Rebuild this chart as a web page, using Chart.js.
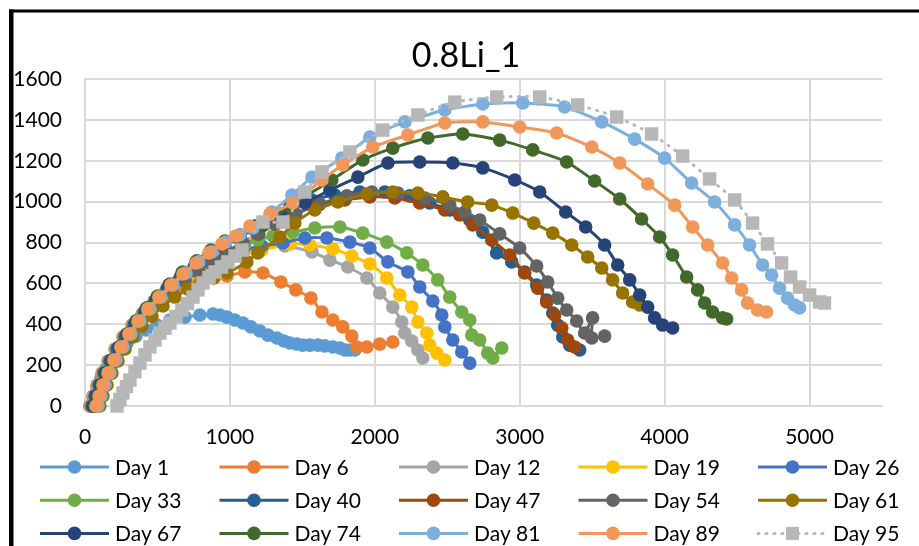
<!DOCTYPE html>
<html lang="en">
<head>
<meta charset="UTF-8">
<title>0.8Li_1</title>
<script src="https://cdn.jsdelivr.net/npm/chart.js@4.4.0/dist/chart.umd.min.js"></script>
<style>
  html, body { margin: 0; padding: 0; background: #fff; }
</style>
</head>
<body>
<canvas id="chart" width="919" height="546"></canvas>
<script>
// series names and colours (Excel palette)
const chartTitle = '0.8Li_1';
const dayLabels = ['Day 1', 'Day 6', 'Day 12', 'Day 19', 'Day 26', 'Day 33', 'Day 40', 'Day 47',
                   'Day 54', 'Day 61', 'Day 67', 'Day 74', 'Day 81', 'Day 89', 'Day 95'];
const dayColors = ['#5B9BD5', '#ED7D31', '#A5A5A5', '#FFC000', '#4472C4', '#70AD47', '#255E91', '#9E480E',
                   '#636363', '#997300', '#264478', '#43682B', '#7CAFDD', '#F1975A', '#B7B7B7'];
const xTickValues = [0, 1000, 2000, 3000, 4000, 5000];
const yTickValues = [0, 200, 400, 600, 800, 1000, 1200, 1400, 1600];

// values
const day1X = [34, 55, 83, 110, 145, 186, 234, 290, 352, 421, 497, 586, 690, 793, 883, 931, 979, 1034, 1090, 1145, 1207, 1262, 1324, 1372, 1414, 1462, 1503, 1552, 1607, 1655, 1710, 1759, 1793, 1828, 1862];
const day1Y = [0, 44, 93, 137, 181, 225, 269, 308, 342, 372, 396, 421, 435, 445, 450, 445, 435, 421, 406, 387, 367, 347, 333, 318, 308, 303, 298, 298, 298, 294, 289, 284, 274, 274, 274];

const day6X = [34, 55, 83, 117, 159, 207, 262, 324, 393, 469, 552, 641, 738, 848, 979, 1103, 1228, 1352, 1455, 1559, 1635, 1710, 1779, 1841, 1876, 1945, 2034, 2124];
const day6Y = [0, 49, 103, 161, 220, 279, 338, 396, 450, 499, 543, 577, 607, 626, 636, 656, 651, 607, 568, 528, 460, 421, 387, 342, 289, 289, 303, 313];

const day12X = [41, 62, 90, 124, 166, 214, 269, 331, 400, 476, 559, 641, 724, 828, 945, 1069, 1207, 1379, 1566, 1690, 1814, 1945, 2034, 2124, 2186, 2207, 2255, 2297, 2331];
const day12Y = [0, 49, 103, 161, 220, 279, 338, 396, 455, 514, 568, 612, 646, 685, 724, 754, 773, 783, 754, 714, 680, 626, 553, 484, 411, 357, 318, 274, 235];

const day19X = [48, 69, 97, 131, 172, 221, 276, 338, 407, 483, 566, 655, 745, 841, 945, 1069, 1221, 1414, 1552, 1710, 1841, 1966, 2083, 2172, 2255, 2297, 2359, 2379, 2428, 2483];
const day19Y = [0, 49, 103, 161, 220, 279, 338, 396, 455, 514, 568, 617, 651, 680, 705, 734, 763, 793, 788, 768, 734, 695, 626, 543, 484, 411, 357, 298, 259, 225];

const day26X = [55, 76, 103, 138, 179, 228, 283, 345, 414, 490, 572, 662, 759, 862, 972, 1090, 1221, 1366, 1517, 1669, 1828, 1966, 2090, 2228, 2310, 2400, 2462, 2483, 2538, 2600, 2655];
const day26Y = [0, 49, 103, 161, 220, 279, 338, 396, 455, 514, 568, 617, 661, 700, 734, 763, 783, 798, 822, 822, 802, 773, 705, 656, 582, 514, 445, 387, 323, 264, 210];

const day33X = [69, 90, 117, 152, 193, 241, 297, 359, 428, 503, 586, 676, 772, 876, 986, 1103, 1193, 1297, 1434, 1586, 1759, 1917, 2083, 2221, 2331, 2434, 2517, 2600, 2655, 2669, 2724, 2779, 2814, 2876];
const day33Y = [0, 49, 103, 161, 220, 279, 338, 396, 455, 514, 568, 617, 665, 710, 754, 793, 812, 832, 851, 871, 876, 846, 802, 749, 690, 617, 533, 460, 421, 347, 323, 259, 235, 284];

const day40X = [48, 69, 97, 131, 172, 221, 276, 338, 407, 483, 566, 655, 752, 848, 952, 1055, 1159, 1276, 1414, 1566, 1724, 1897, 2069, 2241, 2379, 2517, 2655, 2745, 2841, 2945, 3034, 3117, 3186, 3228, 3262, 3297, 3345, 3414];
const day40Y = [0, 49, 103, 161, 220, 279, 338, 396, 455, 514, 572, 626, 680, 729, 778, 822, 866, 910, 959, 1008, 1032, 1047, 1047, 1028, 993, 959, 910, 851, 749, 705, 656, 592, 519, 455, 396, 338, 298, 274];

const day47X = [76, 97, 124, 159, 200, 248, 303, 366, 434, 510, 593, 683, 779, 876, 979, 1083, 1193, 1310, 1448, 1607, 1793, 1966, 2138, 2310, 2483, 2586, 2676, 2807, 2931, 3034, 3124, 3186, 3241, 3290, 3331, 3379];
const day47Y = [0, 49, 103, 161, 220, 279, 338, 396, 455, 509, 563, 617, 665, 710, 754, 798, 842, 891, 939, 983, 1008, 1023, 1018, 993, 959, 935, 886, 812, 739, 651, 577, 509, 445, 382, 323, 289];

const day54X = [83, 103, 131, 166, 207, 255, 310, 372, 441, 517, 600, 690, 786, 883, 986, 1090, 1200, 1317, 1455, 1621, 1807, 1979, 2159, 2345, 2517, 2621, 2724, 2862, 3000, 3117, 3193, 3262, 3324, 3393, 3448, 3503, 3497, 3586];
const day54Y = [0, 49, 103, 161, 220, 279, 338, 396, 455, 509, 563, 617, 665, 710, 754, 798, 842, 891, 939, 988, 1028, 1047, 1042, 1018, 983, 949, 910, 842, 773, 685, 607, 528, 470, 416, 357, 431, 333, 342];

const day61X = [103, 124, 152, 186, 228, 276, 331, 393, 462, 538, 621, 710, 800, 890, 979, 1117, 1193, 1345, 1448, 1586, 1745, 1945, 2124, 2297, 2469, 2641, 2807, 2952, 3097, 3228, 3359, 3469, 3566, 3641, 3710, 3779, 3828];
const day61Y = [0, 49, 103, 161, 220, 279, 338, 391, 440, 489, 533, 572, 607, 626, 651, 705, 749, 827, 895, 959, 998, 1037, 1047, 1042, 1023, 998, 983, 944, 895, 846, 788, 729, 675, 617, 553, 509, 494];

const day67X = [62, 83, 110, 145, 186, 234, 290, 352, 421, 497, 579, 669, 766, 862, 966, 1069, 1172, 1345, 1517, 1690, 1883, 2090, 2310, 2538, 2745, 2966, 3138, 3317, 3455, 3586, 3676, 3759, 3828, 3883, 3931, 3986, 4055];
const day67Y = [0, 49, 103, 161, 225, 289, 352, 416, 475, 533, 592, 651, 705, 754, 798, 837, 881, 939, 993, 1057, 1120, 1189, 1194, 1189, 1165, 1106, 1047, 949, 876, 788, 690, 617, 543, 484, 431, 396, 382];

const day74X = [69, 90, 117, 152, 193, 241, 297, 359, 428, 503, 586, 676, 772, 869, 966, 1069, 1221, 1414, 1703, 1917, 2124, 2366, 2607, 2862, 3090, 3324, 3517, 3690, 3841, 3966, 4055, 4152, 4228, 4276, 4331, 4400, 4428];
const day74Y = [0, 49, 103, 161, 225, 289, 352, 416, 480, 538, 597, 656, 710, 763, 807, 832, 881, 979, 1106, 1204, 1262, 1311, 1331, 1301, 1253, 1194, 1101, 1013, 915, 827, 739, 631, 568, 504, 460, 431, 426];

const day81X = [90, 110, 138, 172, 214, 262, 317, 379, 448, 524, 607, 697, 786, 876, 972, 1069, 1159, 1290, 1428, 1566, 1772, 1966, 2207, 2483, 2745, 3021, 3310, 3566, 3793, 4000, 4186, 4345, 4483, 4586, 4676, 4738, 4793, 4848, 4897, 4931];
const day81Y = [0, 49, 103, 161, 225, 289, 352, 416, 475, 533, 592, 651, 705, 754, 802, 837, 871, 949, 1032, 1120, 1213, 1316, 1390, 1448, 1478, 1483, 1463, 1390, 1306, 1213, 1091, 998, 886, 788, 690, 641, 577, 528, 494, 480];

const day89X = [76, 97, 124, 159, 200, 248, 303, 366, 434, 510, 593, 676, 766, 855, 945, 1041, 1138, 1276, 1434, 1635, 1779, 1986, 2228, 2483, 2745, 3000, 3255, 3497, 3690, 3883, 4069, 4193, 4297, 4400, 4462, 4531, 4572, 4641, 4703];
const day89Y = [0, 49, 103, 161, 225, 289, 352, 416, 475, 533, 592, 646, 700, 749, 793, 832, 881, 939, 993, 1106, 1179, 1267, 1326, 1385, 1390, 1365, 1336, 1267, 1189, 1086, 983, 876, 788, 700, 626, 568, 504, 470, 460];

const day95X = [221, 241, 262, 286, 310, 345, 379, 414, 448, 483, 517, 552, 586, 628, 669, 707, 745, 780, 814, 856, 897, 942, 986, 1035, 1083, 1228, 1366, 1517, 1635, 1828, 2055, 2297, 2552, 2841, 3138, 3400, 3669, 3910, 4124, 4310, 4483, 4607, 4710, 4807, 4869, 4931, 5000, 5069, 5103];
const day95Y = [0, 32, 64, 95, 127, 168, 210, 250, 289, 323, 357, 381, 406, 438, 470, 501, 533, 568, 602, 629, 656, 680, 705, 734, 763, 900, 900, 1047, 1145, 1243, 1350, 1424, 1487, 1512, 1512, 1473, 1414, 1331, 1223, 1111, 1008, 895, 793, 700, 631, 582, 543, 509, 504];

const seriesX = [day1X, day6X, day12X, day19X, day26X, day33X, day40X, day47X, day54X, day61X, day67X, day74X, day81X, day89X, day95X];
const seriesY = [day1Y, day6Y, day12Y, day19Y, day26Y, day33Y, day40Y, day47Y, day54Y, day61Y, day67Y, day74Y, day81Y, day89Y, day95Y];

Chart.defaults.font.family = 'Lato';
Chart.defaults.color = '#000';

const datasets = dayLabels.map((name, i) => {
  const dotted = i === 14;
  return {
    label: name,
    data: seriesX[i].map((x, k) => ({ x: x, y: seriesY[i][k] })),
    showLine: true,
    borderColor: dayColors[i],
    backgroundColor: dayColors[i],
    borderWidth: 3,
    borderDash: dotted ? [1, 7] : [],
    borderCapStyle: dotted ? 'round' : 'butt',
    tension: 0.2,
    pointStyle: dotted ? 'rect' : 'circle',
    pointRadius: dotted ? 9.5 : 6.8,
    pointBorderWidth: 0,
    pointHoverRadius: dotted ? 9.5 : 6.8,
    order: 14 - i,   // later days on top, like Excel
    clip: false
  };
});

// white background, title and the black frame of the cropped chart box
const framePlugin = {
  id: 'frame',
  beforeDraw(chart) {
    const ctx = chart.ctx;
    ctx.save();
    ctx.fillStyle = '#fff';
    ctx.fillRect(0, 0, chart.width, chart.height);
    ctx.restore();
  },
  afterDraw(chart) {
    const ctx = chart.ctx;
    ctx.save();
    ctx.fillStyle = '#000';
    ctx.fillRect(9, 9.5, chart.width - 9, 3);
    ctx.fillRect(9, 9.5, 4.5, chart.height - 9.5);
    ctx.font = '34px Lato';
    ctx.textAlign = 'center';
    ctx.textBaseline = 'middle';
    ctx.fillText(chartTitle, 466, 56);
    ctx.restore();
  }
};

// legend laid out as a 5-column grid like Excel
const gridLegend = {
  id: 'gridLegend',
  afterDraw(chart) {
    const ctx = chart.ctx;
    ctx.save();
    ctx.font = '21px Lato';
    ctx.textBaseline = 'middle';
    chart.data.datasets.forEach((ds, i) => {
      const x0 = 40 + (i % 5) * 179.5;
      const y = 467 + Math.floor(i / 5) * 33.2;
      ctx.strokeStyle = ds.borderColor;
      ctx.fillStyle = ds.backgroundColor;
      ctx.lineWidth = 3;
      ctx.setLineDash(ds.borderDash);
      ctx.lineCap = ds.borderCapStyle;
      ctx.beginPath();
      ctx.moveTo(x0, y);
      ctx.lineTo(x0 + 69, y);
      ctx.stroke();
      ctx.setLineDash([]);
      if (ds.pointStyle === 'rect') {
        ctx.fillRect(x0 + 34.5 - 6.5, y - 6.5, 13, 13);
      } else {
        ctx.beginPath();
        ctx.arc(x0 + 34.5, y, 6.8, 0, Math.PI * 2);
        ctx.fill();
      }
      ctx.fillStyle = '#000';
      ctx.fillText(ds.label, x0 + 75, y + 1);
    });
    ctx.restore();
  }
};

const ctx = document.getElementById('chart').getContext('2d');
new Chart(ctx, {
  type: 'scatter',
  data: { datasets: datasets },
  plugins: [framePlugin, gridLegend],
  options: {
    responsive: false,
    animation: false,
    events: [],
    layout: { padding: { left: 0, right: 37, top: 79, bottom: 0 } },
    plugins: {
      legend: { display: false },
      tooltip: { enabled: false },
      title: { display: false }
    },
    scales: {
      x: {
        type: 'linear',
        min: 0,
        max: 5500,
        ticks: { stepSize: 1000, padding: 19, font: { size: 21 }, color: '#000', callback: v => String(v) },
        afterBuildTicks: s => { s.ticks = xTickValues.map(v => ({ value: v })); },
        afterFit: s => { s.height = 140; },
        grid: { color: '#D9D9D9', lineWidth: 2, drawTicks: false },
        border: { color: '#D9D9D9', width: 2 }
      },
      y: {
        min: 0,
        max: 1600,
        ticks: { stepSize: 200, padding: 23, font: { size: 21 }, color: '#000', callback: v => String(v) },
        afterBuildTicks: s => { s.ticks = yTickValues.map(v => ({ value: v })); },
        afterFit: s => { s.width = 85; },
        grid: { color: '#D9D9D9', lineWidth: 2, drawTicks: false },
        border: { color: '#D9D9D9', width: 2 }
      }
    }
  }
});
</script>
</body>
</html>
